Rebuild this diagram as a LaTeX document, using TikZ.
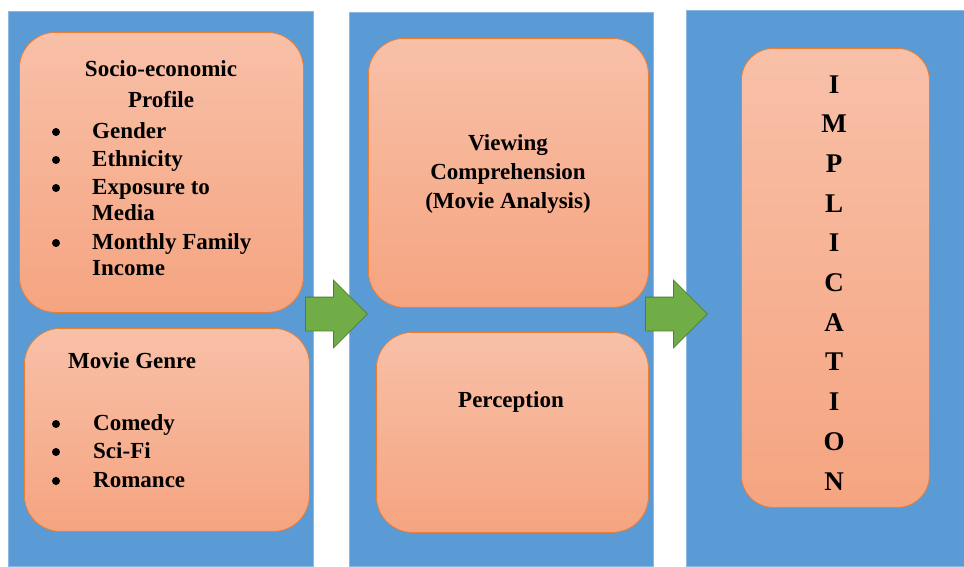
\documentclass[tikz,border=0pt]{standalone}
\usepackage{fontspec}
\setmainfont{Liberation Serif}
\usepackage{tikz}
\usetikzlibrary{shapes,arrows}
\usetikzlibrary{positioning}
\definecolor{panelblue}{HTML}{5B9BD5}
\definecolor{peachtop}{HTML}{F8C0A8}
\definecolor{peachbot}{HTML}{F5A480}
\definecolor{peachline}{HTML}{ED7D31}
\definecolor{arrgreen}{HTML}{70AD47}
\definecolor{arrline}{HTML}{507E32}
\begin{document}
\begin{tikzpicture}[x=1pt,y=-1pt,
		panel/.style={fill=panelblue,draw=panelblue!70!white,line width=0.6pt,anchor=north west,inner sep=0},
		box/.style={draw=peachline,line width=0.8pt,top color=peachtop,bottom color=peachbot,rounded corners=36pt,anchor=north west,inner sep=0},
		txt/.style={font=\bfseries\fontsize{23}{28}\selectfont,inner sep=0},
		dot/.style={circle,fill=black,inner sep=0,minimum size=8pt},
		letter/.style={font=\bfseries\fontsize{27}{30}\selectfont,inner sep=0,anchor=base},
		blockarrow/.style={single arrow,draw=arrline,fill=arrgreen,line width=0.8pt,minimum height=62pt,inner xsep=0,inner ysep=16.5pt,single arrow head extend=17pt,single arrow head indent=0pt,anchor=tail}]
		
		\useasboundingbox[fill=white] (0,0) rectangle (964,566);
		
		% panels
		\node[panel,minimum width=305pt,minimum height=555pt] (pleft) at (8,11) {};
		\node[panel,minimum width=304pt,minimum height=554pt] (pmid) at (349,12) {};
		\node[panel,minimum width=278pt,minimum height=556pt] (pright) at (686,10) {};
		
		% boxes
		\node[box,minimum width=284pt,minimum height=280pt] (socio) at (19,32) {};
		\node[box,minimum width=285pt,minimum height=203pt] (genre) at (24,328) {};
		\node[box,minimum width=280pt,minimum height=269pt] (view) at (368,38) {};
		\node[box,minimum width=272pt,minimum height=200pt] (perc) at (376,332) {};
		\node[box,minimum width=188pt,minimum height=459pt,rounded corners=32pt] (impl) at (741,48) {};
		
		% socio-economic profile
		\node[txt,anchor=base] (sociot1) at (161,76) {Socio-economic};
		\node[txt,anchor=base] (sociot2) at (161,107) {Profile};
		\node[dot] (sb1) at (56,132) {};
		\node[txt,anchor=base west] (si1) at (92,138) {Gender};
		\node[dot] (sb2) at (56,160) {};
		\node[txt,anchor=base west] (si2) at (92,166) {Ethnicity};
		\node[dot] (sb3) at (56,188) {};
		\node[txt,anchor=base west] (si3) at (92,194) {Exposure to};
		\node[txt,anchor=base west] (si3b) at (92,220) {Media};
		\node[dot] (sb4) at (56,243) {};
		\node[txt,anchor=base west] (si4) at (92,249) {Monthly Family};
		\node[txt,anchor=base west] (si4b) at (92,275) {Income};
		
		% movie genre
		\node[txt,anchor=base west] (genret) at (68,368) {Movie Genre};
		\node[dot] (gb1) at (56,424) {};
		\node[txt,anchor=base west] (gi1) at (93,430) {Comedy};
		\node[dot] (gb2) at (56,452) {};
		\node[txt,anchor=base west] (gi2) at (93,458) {Sci-Fi};
		\node[dot] (gb3) at (56,481) {};
		\node[txt,anchor=base west] (gi3) at (93,487) {Romance};
		
		% viewing comprehension and perception
		\node[txt,anchor=base] (viewt1) at (508,150) {Viewing};
		\node[txt,anchor=base] (viewt2) at (508,179) {Comprehension};
		\node[txt,anchor=base] (viewt3) at (508,208) {(Movie Analysis)};
		\node[txt,anchor=base] (perct) at (511,407) {Perception};
		
		% implication
		\foreach \ch [count=\i from 0] in {I,M,P,L,I,C,A,T,I,O,N}
			\node[letter] (impl\i) at (834,93+39.7*\i) {\ch};
		
		% block arrows
		\node[blockarrow] (arrA) at (305,314) {};
		\node[blockarrow] (arrB) at (645,314) {};
		
		\end{tikzpicture}
\end{document}
